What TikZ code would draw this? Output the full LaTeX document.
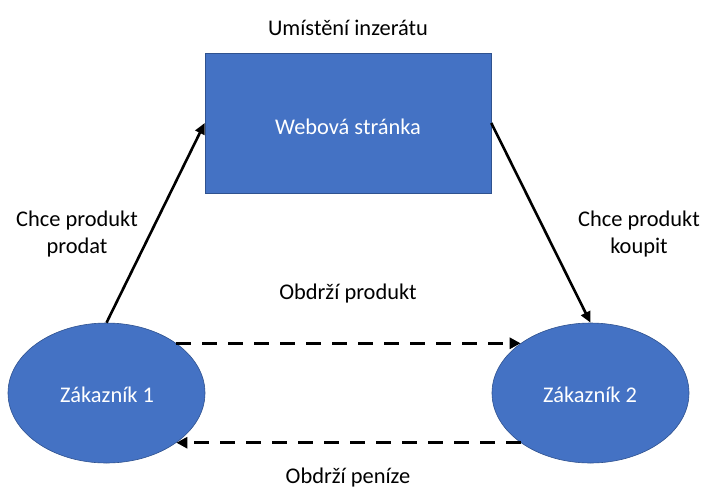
\documentclass[tikz,border=0pt]{standalone}
\usepackage{fontspec}
\setmainfont{Carlito}
\usetikzlibrary{arrows.meta,shapes.geometric}
\definecolor{boxblue}{HTML}{4472C4}
\definecolor{boxedge}{HTML}{2F528F}
\begin{document}
\begin{tikzpicture}[x=1pt,y=-1pt,
  every node/.style={font=\fontsize{22.4}{27}\selectfont},
  shapebox/.style={fill=boxblue,draw=boxedge,line width=0.6pt,text=white},
  label/.style={text=black,align=center,anchor=base,inner sep=0pt},
  flow/.style={draw=black,line width=2.6pt,-{Triangle[length=11pt,width=10pt]}},
  dashflow/.style={draw=black,line width=3.2pt,dash pattern=on 15pt off 11pt,
    -{Triangle[length=11pt,width=11pt]}}]
  \useasboundingbox (0,0) rectangle (702,488);
  % website box and the two customers
  \node[shapebox,rectangle,minimum width=286pt,minimum height=140pt,inner sep=0pt]
    (web) at (348,123) {};
  \node[shapebox,ellipse,minimum width=197pt,minimum height=140pt,inner sep=0pt]
    (c1) at (106.5,393) {};
  \node[shapebox,ellipse,minimum width=197pt,minimum height=140pt,inner sep=0pt]
    (c2) at (590.5,393) {};
  \node[label,text=white] (webt) at (348,134) {Webová stránka};
  \node[label,text=white] (c1t) at (107,402) {Zákazník 1};
  \node[label,text=white] (c2t) at (590,402) {Zákazník 2};
  % captions (base of a two-line label is its last line)
  \node[label] (place) at (348,35) {Umístění inzerátu};
  \node[label] (sell) at (77,253) {Chce produkt\\prodat};
  \node[label] (buy) at (639,253) {Chce produkt\\koupit};
  \node[label] (getp) at (348,299) {Obdrží produkt};
  \node[label] (getm) at (348,483) {Obdrží peníze};
  % connectors
  \draw[flow] (c1.north) -- (web.west);
  \draw[flow] (web.east) -- (c2.north);
  \draw[dashflow] (c1.north east) -- (c2.north west);
  \draw[dashflow] (c2.south west) -- (c1.south east);
\end{tikzpicture}
\end{document}
